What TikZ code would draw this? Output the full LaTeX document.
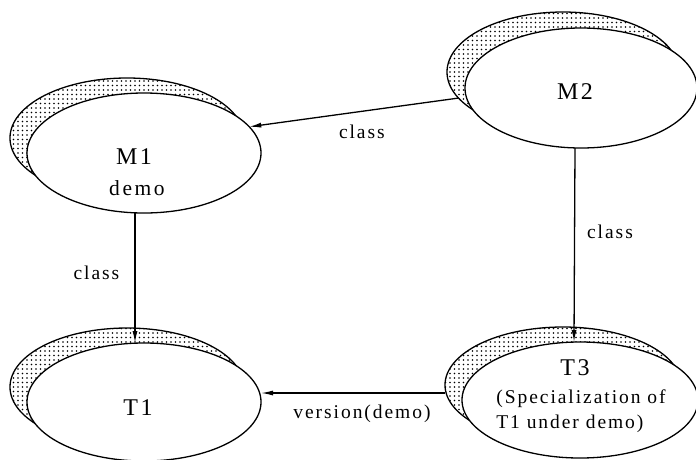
\documentclass[tikz,border=0pt]{standalone}
\usepackage{fontspec}
\setmainfont{Liberation Serif}[LetterSpace=10]
\usetikzlibrary{shapes.geometric,patterns,arrows.meta}
\pgfdeclarepatternformonly{bigdots}{\pgfqpoint{-1pt}{-1pt}}{\pgfqpoint{3.5pt}{3.5pt}}{\pgfqpoint{4.5pt}{4.5pt}}{\pgfpathcircle{\pgfqpoint{0pt}{0pt}}{0.95pt}\pgfusepath{fill}}
\tikzset{
  front/.style={ellipse, draw, line width=1.3pt, fill=white, inner sep=0pt, outer sep=0pt},
  back/.style={ellipse, draw, line width=1.3pt, pattern=bigdots, inner sep=0pt, outer sep=0pt},
  title/.style={inner sep=0pt, font=\fontsize{24}{27}\selectfont},
  sub/.style={inner sep=0pt, font=\fontsize{19.5}{25}\selectfont},
  lbl/.style={inner sep=0pt, font=\fontsize{19.5}{22}\selectfont},
  arr/.style={line width=1.3pt, -{Latex[length=12pt,width=5pt]}}
}
\begin{document}
\begin{tikzpicture}[x=1pt,y=-1pt]
\useasboundingbox (0,0) rectangle (696,459);
% M1
\node[back, minimum width=234pt, minimum height=120pt] (M1b) at (127,138) {};
\node[front, minimum width=234pt, minimum height=120pt] (M1) at (144,153) {};
\node[title] (M1t) at (134,157) {M1};
\node[sub, font=\fontsize{21.5}{25}\selectfont\addfontfeature{LetterSpace=12}] (M1s) at (137,188) {demo};
% M2
\node[back, minimum width=232pt, minimum height=120pt] (M2b) at (563,72) {};
\node[front, minimum width=232pt, minimum height=120pt] (M2) at (581,88) {};
\node[title] (M2t) at (575,92) {M2};
% T1
\node[back, minimum width=234pt, minimum height=118pt] (T1b) at (127,387) {};
\node[front, minimum width=234pt, minimum height=118pt] (T1) at (144,402) {};
\node[title] (T1t) at (138,408) {T1};
% T3
\node[back, minimum width=236pt, minimum height=116pt] (T3b) at (563,385) {};
\node[front, minimum width=236pt, minimum height=116pt] (T3) at (580,400) {};
\node[title] (T3t) at (575,368) {T3};
\node[sub, align=left] (T3s) at (581,411) {(Specialization of\\T1 under demo)};
% connectors
\draw[arr] (M2b.194) -- node[lbl, midway, below=12pt, xshift=8pt] (l1) {class} (M1.14);
\draw[arr] ([xshift=-9pt]M1.south) -- node[lbl, midway, left=15pt, yshift=5pt] (l2) {class} ([xshift=-9pt]T1.north);
\draw[arr] ([xshift=-6pt]M2.south) -- node[lbl, midway, right=12pt, yshift=13pt] (l3) {class} ([xshift=-6pt]T3.north);
\draw[arr] ([yshift=-8pt]T3b.west) -- node[lbl, midway, below=11pt, xshift=9pt] (l4) {version(demo)} ([yshift=-8pt]T3b.west -| T1.east);
\end{tikzpicture}
\end{document}
